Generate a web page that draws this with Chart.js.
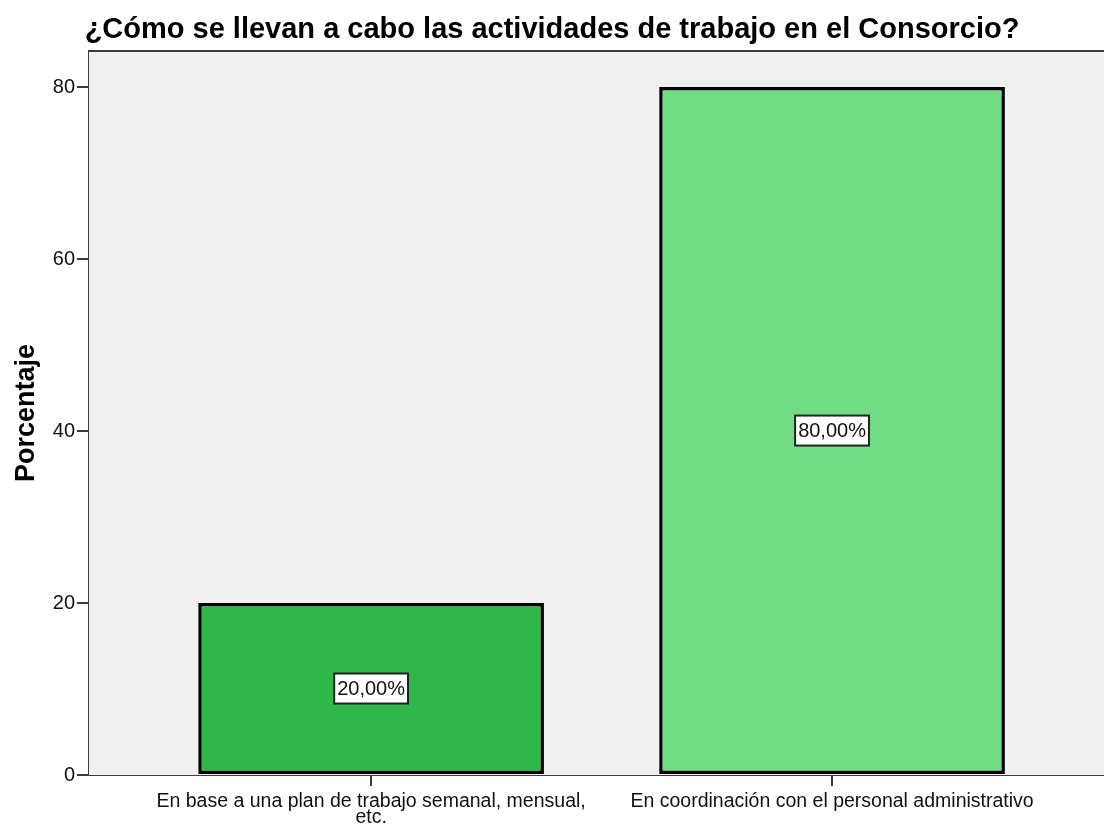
<!DOCTYPE html>
<html>
<head>
<meta charset="utf-8">
<script src="https://cdn.jsdelivr.net/npm/chart.js@4/dist/chart.umd.min.js"></script>
<style>
  html, body { margin: 0; padding: 0; background: #fff; overflow: hidden; }
  #wrap { width: 1104px; height: 827px; }
</style>
</head>
<body>
<div id="wrap"><canvas id="barChart"></canvas></div>
<script>
// data
const chartTitle = "¿Cómo se llevan a cabo las actividades de trabajo en el Consorcio?";
const yTitle = "Porcentaje";
const categories = [
  ["En base a una plan de trabajo semanal, mensual,", "etc."],
  ["En coordinación con el personal administrativo"]
];
const percentages = [20, 80];
const barColors = ["#2eb84a", "#70dd84"];
const yTicks = [0, 20, 40, 60, 80];

const FONT = "'Liberation Sans', Arial, sans-serif";
const AXIS = "#3c3c3c";

// grey plot background + top frame line
const plotBg = {
  id: "plotBg",
  beforeDatasetsDraw(chart) {
    const { ctx, chartArea: a } = chart;
    ctx.save();
    ctx.fillStyle = "#f0f0f0";
    ctx.fillRect(a.left, a.top, a.right - a.left, a.bottom - a.top);
    ctx.strokeStyle = AXIS;
    ctx.lineWidth = 2;
    ctx.beginPath();
    ctx.moveTo(a.left, a.top);
    ctx.lineTo(a.right, a.top);
    ctx.stroke();
    ctx.restore();
  }
};

// boxed percentage labels in the middle of each bar
const boxLabels = {
  id: "boxLabels",
  afterDatasetsDraw(chart) {
    const { ctx } = chart;
    const meta = chart.getDatasetMeta(0);
    ctx.save();
    ctx.font = "20px " + FONT;
    ctx.textAlign = "center";
    ctx.textBaseline = "middle";
    meta.data.forEach((bar, i) => {
      const txt = percentages[i].toFixed(2).replace(".", ",") + "%";
      const cy = (bar.y + bar.base) / 2;
      const w = ctx.measureText(txt).width + 6;
      const h = 30;
      ctx.fillStyle = "#fff";
      ctx.fillRect(bar.x - w / 2, cy - h / 2, w, h);
      ctx.strokeStyle = "#222";
      ctx.lineWidth = 2;
      ctx.strokeRect(bar.x - w / 2, cy - h / 2, w, h);
      ctx.fillStyle = "#111";
      ctx.fillText(txt, bar.x, cy + 1);
    });
    ctx.restore();
  }
};

const ctx = document.getElementById("barChart").getContext("2d");

new Chart(ctx, {
  type: "bar",
  data: {
    datasets: [{
      data: percentages.map((v, i) => ({ x: i, y: v })),
      backgroundColor: barColors,
      borderColor: "#000",
      borderWidth: 3.5,
      borderSkipped: false,
      categoryPercentage: 0.75,
      barPercentage: 1
    }]
  },
  options: {
    responsive: true,
    maintainAspectRatio: false,
    animation: false,
    layout: { padding: 0 },
    plugins: {
      legend: { display: false },
      tooltip: { enabled: false },
      title: {
        display: true,
        text: chartTitle,
        color: "#000",
        font: { family: FONT, size: 29, weight: "bold", lineHeight: 1.2 },
        padding: { top: 13, bottom: 3.2 }
      }
    },
    scales: {
      x: {
        type: "linear",
        offset: false,
        min: -0.612,
        max: 1.59,
        afterBuildTicks: s => { s.ticks = categories.map((c, i) => ({ value: i })); },
        afterFit: s => { s.height = 52; },
        ticks: {
          color: "#111",
          padding: 8,
          maxRotation: 0,
          autoSkip: false,
          font: { family: FONT, size: 19.5, lineHeight: 0.82 },
          callback: v => categories[v]
        },
        grid: {
          offset: false,
          drawOnChartArea: false,
          drawTicks: true,
          tickLength: 11,
          color: AXIS,
          lineWidth: 2
        },
        border: { display: true, color: AXIS, width: 2 }
      },
      y: {
        min: 0,
        max: 84.2,
        afterBuildTicks: s => { s.ticks = yTicks.map(v => ({ value: v })); },
        afterFit: s => { s.width = 89; },
        title: {
          display: true,
          text: yTitle,
          color: "#000",
          font: { family: FONT, size: 27, weight: "bold", lineHeight: 1.2 },
          padding: { top: 10.5, bottom: 0 }
        },
        ticks: {
          color: "#111",
          padding: 2,
          font: { family: FONT, size: 20 }
        },
        grid: {
          drawOnChartArea: false,
          drawTicks: true,
          tickLength: 12,
          color: AXIS,
          lineWidth: 2
        },
        border: { display: true, color: AXIS, width: 2 }
      }
    }
  },
  plugins: [plotBg, boxLabels]
});
</script>
</body>
</html>
